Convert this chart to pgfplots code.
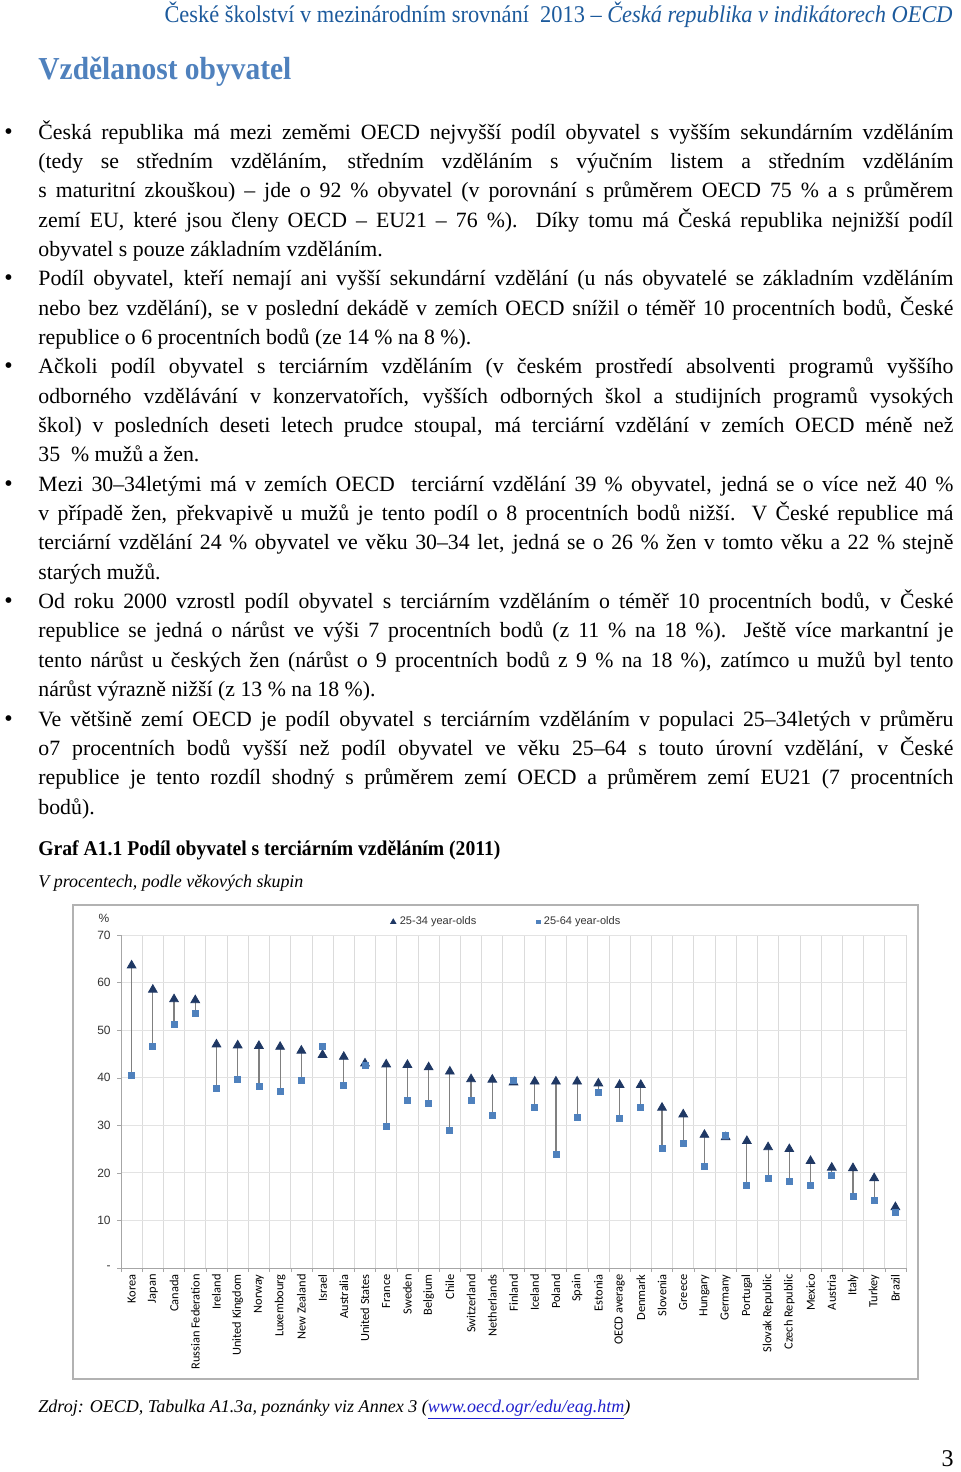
\documentclass[border=0pt]{standalone}
\usepackage{fontspec}
\setmainfont{Liberation Serif}
\newfontfamily\arialf{Liberation Sans}
\newfontfamily\calibrif{Carlito}
\usepackage{graphicx}
\usepackage{pgfplots}
\pgfplotsset{compat=1.18}
\usepackage{pgfplotstable}
\definecolor{hdrblue}{HTML}{1C5A9C}
\definecolor{headblue}{HTML}{4F81BD}
\definecolor{navy}{HTML}{1F3864}
\definecolor{sqblue}{HTML}{4F81BD}
\definecolor{linkblue}{HTML}{1F1FCC}
\pgfplotstableread{
i a b
0 63.6 40.5
1 58.5 46.5
2 56.5 51.3
3 56.3 53.5
4 47.0 37.8
5 46.8 39.6
6 46.7 38.1
7 46.5 37.1
8 45.7 39.4
9 44.8 46.5
10 44.4 38.4
11 43.0 42.6
12 42.8 29.8
13 42.7 35.3
14 42.2 34.7
15 41.3 28.9
16 39.7 35.3
17 39.6 32.0
18 39.0 39.4
19 39.2 33.8
20 39.2 23.8
21 39.2 31.6
22 38.8 36.9
23 38.5 31.5
24 38.5 33.8
25 33.7 25.2
26 32.3 26.2
27 28.0 21.3
28 27.5 27.8
29 26.7 17.4
30 25.4 18.9
31 25.0 18.3
32 22.5 17.4
33 21.1 19.4
34 21.0 15.1
35 18.9 14.2
36 12.8 11.7
}\data
\newcommand\bul{\leavevmode\llap{\makebox[17pt][l]{\fontsize{12}{12}\selectfont\textbullet}}}
\begin{document}
\begin{tikzpicture}
\begin{scope}[x=0.5pt,y=-0.5pt]
\path (0,0) rectangle (960,1472);
% header
\node[anchor=base east, inner sep=0pt, text=hdrblue] at (953,22)
  {\resizebox{394pt}{\height}{\fontsize{12}{14}\selectfont České školství v mezinárodním srovnání\ \ 2013 – \textit{Česká republika v indikátorech OECD}}};
\node[anchor=base west, inner sep=0pt, text=headblue] at (38,79)
  {\resizebox{126.5pt}{\height}{\fontsize{16}{18}\selectfont\bfseries Vzdělanost obyvatel}};
% body
\node[anchor=base west, inner sep=0pt] at (38,139) {\begin{minipage}[t]{457.5pt}\fontsize{10.9}{14.675}\selectfont
\parindent=0pt \parskip=0pt
\bul Česká republika má mezi zeměmi OECD nejvyšší podíl obyvatel s~vyšším sekundárním vzděláním\linebreak
(tedy se středním vzděláním, středním vzděláním s~výučním listem a středním vzděláním\linebreak
s~maturitní zkouškou) – jde o 92 \% obyvatel (v porovnání s~průměrem OECD 75 \% a s~průměrem\linebreak
zemí EU, které jsou členy OECD – EU21 – 76 \%). Díky tomu má Česká republika nejnižší podíl\linebreak
obyvatel s~pouze základním vzděláním.\par
\bul Podíl obyvatel, kteří nemají ani vyšší sekundární vzdělání (u nás obyvatelé se základním vzděláním\linebreak
nebo bez vzdělání), se v poslední dekádě v zemích OECD snížil o téměř 10 procentních bodů, České\linebreak
republice o 6 procentních bodů (ze 14 \% na 8 \%).\par
\bul Ačkoli podíl obyvatel s~terciárním vzděláním (v českém prostředí absolventi programů vyššího\linebreak
odborného vzdělávání v konzervatořích, vyšších odborných škol a studijních programů vysokých\linebreak
škol) v~posledních deseti letech prudce stoupal, má terciární vzdělání v zemích OECD méně než\linebreak
35~~\% mužů a žen.\par
\bul Mezi 30–34letými má v~zemích OECD \ terciární vzdělání 39 \% obyvatel, jedná se o více než 40 \%\linebreak
v~případě žen, překvapivě u mužů je tento podíl o 8 procentních bodů nižší. V České republice má\linebreak
terciární vzdělání 24 \% obyvatel ve věku 30–34 let, jedná se o 26 \% žen v tomto věku a 22 \% stejně\linebreak
starých mužů.\par
\bul Od roku 2000 vzrostl podíl obyvatel s~terciárním vzděláním o téměř 10 procentních bodů, v~České\linebreak
republice se jedná o nárůst ve výši 7 procentních bodů (z 11 \% na 18 \%). Ještě více markantní je\linebreak
tento nárůst u českých žen (nárůst o 9 procentních bodů z 9 \% na 18 \%), zatímco u mužů byl tento\linebreak
nárůst výrazně nižší (z 13 \% na 18 \%).\par
\bul Ve většině zemí OECD je podíl obyvatel s~terciárním vzděláním v~populaci 25–34letých v~průměru\linebreak
o7 procentních bodů vyšší než podíl obyvatel ve věku 25–64 s~touto úrovní vzdělání, v~České\linebreak
republice je tento rozdíl shodný s~průměrem zemí OECD a průměrem zemí EU21 (7 procentních\linebreak
bodů).\par
\end{minipage}};
% captions
\node[anchor=base west, inner sep=0pt] at (38,855)
  {\resizebox{231pt}{\height}{\fontsize{10.5}{12}\selectfont\bfseries Graf A1.1 Podíl obyvatel s terciárním vzděláním (2011)}};
\node[anchor=base west, inner sep=0pt] at (38,887)
  {\resizebox{132.5pt}{\height}{\fontsize{9}{11}\selectfont\itshape V procentech, podle věkových skupin}};
% chart frame
\draw[black!30, line width=0.9pt] (73,905) rectangle (918,1379);
\node[inner sep=0pt, text=black!80, font=\arialf\fontsize{6}{7}\selectfont] at (104,918) {\%};
% source
\node[anchor=base west, inner sep=0pt] at (38,1412)
  {\resizebox{296pt}{\height}{\fontsize{9}{11}\selectfont\itshape Zdroj: OECD, Tabulka A1.3a, poznánky viz Annex 3 (\textcolor{linkblue}{\underline{www.oecd.ogr/edu/eag.htm}})}};
\node[anchor=base east, inner sep=0pt] at (954,1466) {\fontsize{12}{14}\selectfont 3};
\end{scope}
\begin{axis}[
  at={(121*0.5pt,-1268*0.5pt)}, anchor=south west,
  scale only axis, width=392.5pt, height=166.5pt,
  xmin=-0.5, xmax=36.5, ymin=0, ymax=70,
  xtick={0,...,36},
  xticklabels={Korea,Japan,Canada,Russian Federation,Ireland,United Kingdom,Norway,Luxembourg,New Zealand,Israel,Australia,United States,France,Sweden,Belgium,Chile,Switzerland,Netherlands,Finland,Iceland,Poland,Spain,Estonia,OECD average,Denmark,Slovenia,Greece,Hungary,Germany,Portugal,Slovak Republic,Czech Republic,Mexico,Austria,Italy,Turkey,Brazil},
  minor xtick={-0.5,0.5,...,36.5},
  ytick={0,10,...,70},
  yticklabels={-,10,20,30,40,50,60,70},
  xminorgrids=true, ymajorgrids=true,
  major grid style={draw=black!11},
  minor grid style={draw=black!14},
  axis x line*=bottom, axis y line*=left,
  axis line style={draw=black!35, -},
  tick align=outside, major tick length=2pt, minor tick length=2pt,
  tick style={draw=black!35},
  major x tick style={draw=none},
  xticklabel style={rotate=90, anchor=east, inner sep=1pt, font=\calibrif\fontsize{6.2}{7}\selectfont, text=black},
  yticklabel style={font=\arialf\fontsize{6}{7}\selectfont, text=black!80, inner sep=3pt},
  legend columns=2,
  legend style={draw=none, fill=none, at={(0.5,1)}, anchor=center, yshift=6.5pt, xshift=-3pt,
    font=\arialf\fontsize{5.5}{6.5}\selectfont, text=black!80,
    /tikz/every even column/.append style={column sep=28pt}},
  legend image code/.code={\draw[#1, /tikz/every mark/.append style={scale=0.6}] plot coordinates {(1pt,0pt)};},
]
\addplot[forget plot, draw=none, mark=none,
  error bars/.cd, y dir=plus, y explicit, error mark=none,
  error bar style={draw=black!50, line width=0.6pt}]
  table[x=i, y=b, y error expr=\thisrow{a}-\thisrow{b}] {\data};
\addplot[only marks, mark=triangle*, mark size=2.5pt, color=navy] table[x=i, y=a] {\data};
\addlegendentry{25-34 year-olds}
\addplot[only marks, mark=square*, mark size=1.5pt, color=sqblue] table[x=i, y=b] {\data};
\addlegendentry{25-64 year-olds}
\end{axis}
\end{tikzpicture}
\end{document}
